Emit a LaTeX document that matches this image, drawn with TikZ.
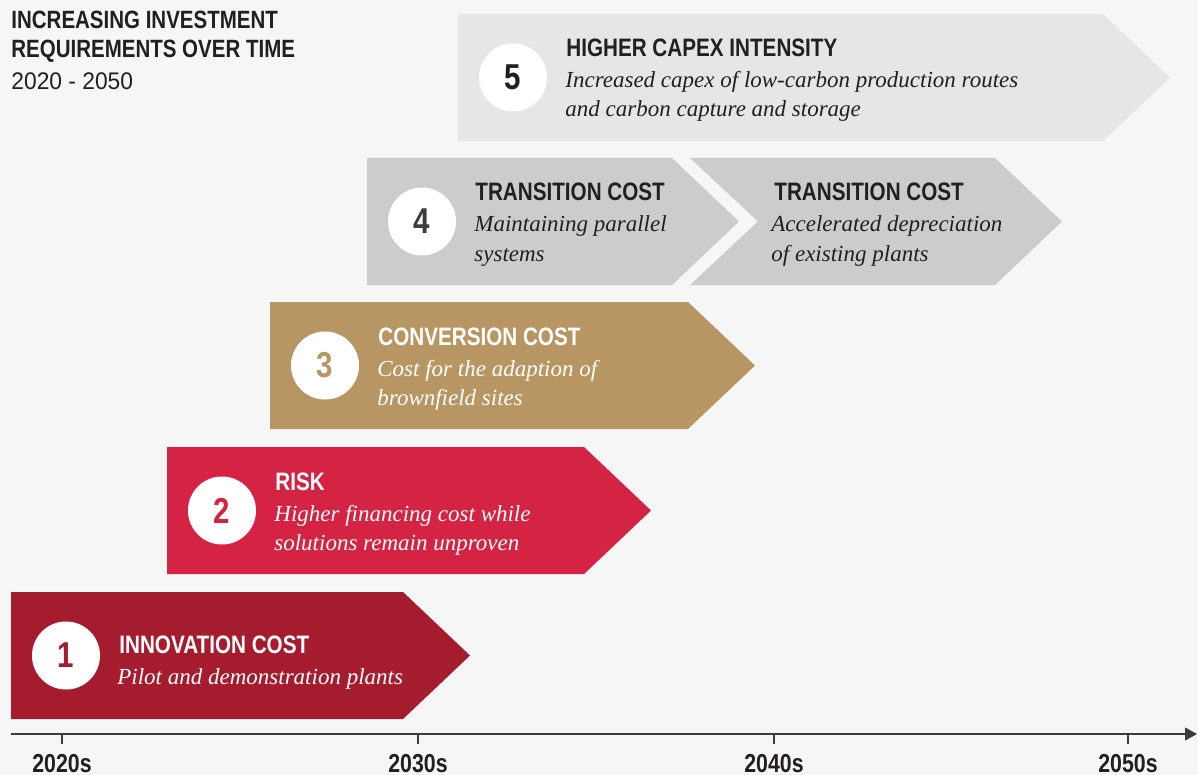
\documentclass[tikz,border=0pt]{standalone}
\usepackage{fontspec}
\setmainfont{Liberation Serif}
\newfontfamily\condfont{Liberation Sans}[FakeStretch=0.82]
\newfontfamily\plainfont{Liberation Sans}[FakeStretch=0.95]
\usetikzlibrary{arrows.meta}
\definecolor{bgpaper}{HTML}{F6F6F6}
\definecolor{innov}{HTML}{A51C2E}
\definecolor{risk}{HTML}{D42343}
\definecolor{convert}{HTML}{B89664}
\definecolor{transit}{HTML}{CBCCCE}
\definecolor{capex}{HTML}{E5E6E8}
\definecolor{ink}{HTML}{231F20}
\definecolor{axisgray}{HTML}{3C3C3C}
% left edge, top edge, end of flat part, colour
\newcommand{\stagearrow}[4]{\fill[#4] (#1,#2) -- (#3,#2) -- ({#3+67},{#2+63.5}) -- (#3,{#2+127}) -- (#1,{#2+127}) -- cycle;}

\begin{document}
\begin{tikzpicture}[x=0.5pt,y=-0.5pt,>={Triangle[length=6pt,width=6.5pt]},
	head/.style={font=\condfont\bfseries\fontsize{12.6}{14}\selectfont, anchor=base west, inner sep=0pt},
	desc/.style={font=\itshape\fontsize{11.5}{15}\selectfont, anchor=base west, inner sep=0pt},
	num/.style={circle, fill=white, minimum size=34pt, inner sep=0pt, font=\condfont\bfseries\fontsize{18}{20}\selectfont},
	year/.style={font=\condfont\bfseries\fontsize{13}{15}\selectfont, anchor=base, inner sep=0pt, text=ink}]
	\useasboundingbox (0,0) rectangle (1198,775);
	\fill[bgpaper] (0,0) rectangle (1198,775);
	% title
	\node[head, text=ink, font=\condfont\bfseries\fontsize{12.5}{14}\selectfont] (title1) at (11,29) {INCREASING INVESTMENT};
	\node[head, text=ink, font=\condfont\bfseries\fontsize{12.5}{14}\selectfont] (title2) at (11,58) {REQUIREMENTS OVER TIME};
	\node[head, text=ink, font=\plainfont\fontsize{12}{14}\selectfont] (period) at (11,90) {2020 - 2050};
	% stages
	\stagearrow{11}{592}{403}{innov}
	\stagearrow{167}{447}{584}{risk}
	\stagearrow{270}{302}{688}{convert}
	\stagearrow{367}{158}{672}{transit}
	\fill[transit] (690,158) -- (995,158) -- (1062,221.5) -- (995,285) -- (690,285) -- (758,221.5) -- cycle;
	\stagearrow{458}{14}{1103}{capex}
	% 1
	\node[num, text=innov] (n1) at (66,655.5) {1};
	\node[head, text=white] (h1) at (119,653) {INNOVATION COST};
	\node[desc, text=white] (d1) at (117,684) {Pilot and demonstration plants};
	% 2
	\node[num, text=risk] (n2) at (222,510.5) {2};
	\node[head, text=white] (h2) at (275,490) {RISK};
	\node[desc, text=white] (d2a) at (274,521) {Higher financing cost while};
	\node[desc, text=white] (d2b) at (274,550) {solutions remain unproven};
	% 3
	\node[num, text=convert] (n3) at (325,365.5) {3};
	\node[head, text=white] (h3) at (378,345) {CONVERSION COST};
	\node[desc, text=white] (d3a) at (377,376) {Cost for the adaption of};
	\node[desc, text=white] (d3b) at (377,405) {brownfield sites};
	% 4
	\node[num, text=axisgray] (n4) at (422,221.5) {4};
	\node[head, text=ink] (h4a) at (475,201) {TRANSITION COST};
	\node[desc, text=ink] (d4a) at (474,232) {Maintaining parallel};
	\node[desc, text=ink] (d4b) at (474,261) {systems};
	\node[head, text=ink] (h4b) at (774,201) {TRANSITION COST};
	\node[desc, text=ink] (d4c) at (771,232) {Accelerated depreciation};
	\node[desc, text=ink] (d4d) at (771,261) {of existing plants};
	% 5
	\node[num, text=ink] (n5) at (513,77.5) {5};
	\node[head, text=ink] (h5) at (566,57) {HIGHER CAPEX INTENSITY};
	\node[desc, text=ink] (d5a) at (565,88) {Increased capex of low-carbon production routes};
	\node[desc, text=ink] (d5b) at (565,117) {and carbon capture and storage};
	% time axis
	\coordinate (axL) at (11,734);
	\coordinate (axR) at (1197,734);
	\draw[->, axisgray, line width=0.6pt] (axL) -- (axR);
	\foreach \x/\yr in {62/2020s,418/2030s,774/2040s,1128/2050s}{
		\draw[axisgray, line width=0.6pt] (\x,734) -- (\x,744);
		\node[year] (y\yr) at (\x,772) {\yr};
	}
\end{tikzpicture}
\end{document}
